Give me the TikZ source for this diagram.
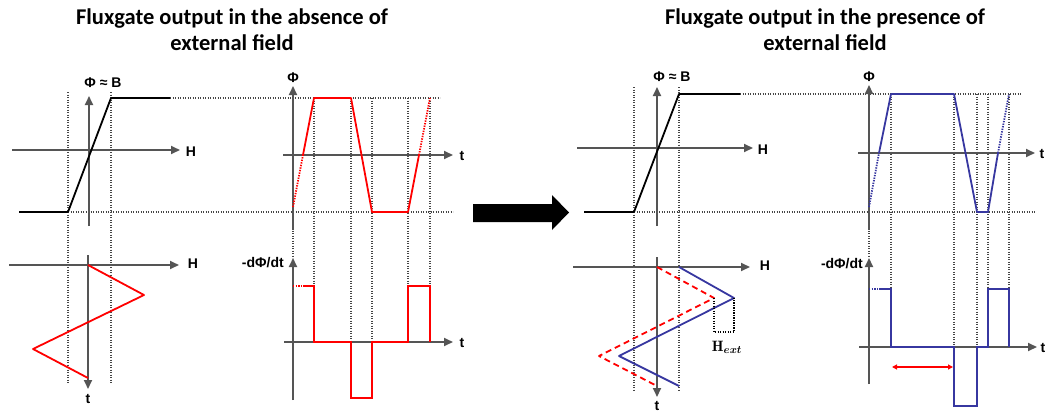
\documentclass[tikz,border=0pt]{standalone}
\usepackage{amsmath}
\usepackage{fontspec}
\newfontfamily\titlefont{Carlito}
\newfontfamily\labfont{Liberation Sans}
\usetikzlibrary{arrows.meta}
\definecolor{axisgray}{RGB}{85,85,85}
\definecolor{dotgray}{RGB}{70,70,70}
\definecolor{curvered}{RGB}{255,0,0}
\definecolor{curveblue}{RGB}{55,55,160}
\begin{document}
\begin{tikzpicture}[x=1pt,y=-1pt,
  axis/.style={draw=axisgray,line width=1.8pt,-{Triangle[length=9pt,width=8pt]}},
  guide/.style={draw=dotgray,line width=1.8pt,dash pattern=on 1.2pt off 1.3pt},
  bh/.style={draw=black,line width=1.8pt,line join=round},
  redc/.style={draw=curvered,line width=1.8pt},
  redd/.style={draw=curvered,line width=1.8pt,dash pattern=on 1.4pt off 1.2pt},
  reddash/.style={draw=curvered,line width=1.8pt,dash pattern=on 6pt off 4pt},
  bluec/.style={draw=curveblue,line width=1.8pt},
  blued/.style={draw=curveblue,line width=1.8pt,dash pattern=on 1.4pt off 1.2pt},
  lab/.style={font=\labfont\bfseries\fontsize{14}{16}\selectfont,text=black,inner sep=0pt},
  ttl/.style={font=\titlefont\bfseries\fontsize{22.5}{26}\selectfont,align=center,inner sep=0pt}
]
\useasboundingbox (0,0) rectangle (1049,412);

% ---------- titles ----------
\node[ttl] (t1) at (232,30) {Fluxgate output in the absence of\\external field};
\node[ttl] (t2) at (825,30) {Fluxgate output in the presence of\\external field};

% ================= LEFT HALF =================
% guides
\draw[guide] (68,92) -- (68,383);
\draw[guide] (111,92) -- (111,383);
\draw[guide] (170,98) -- (440,98);
\draw[guide] (68,212) -- (453,212);
\foreach \x in {314,351,372,408,430} \draw[guide] (\x,98) -- (\x,342);
\draw[guide] (293,228) -- (293,258);
% B-H curve
\draw[axis] (12,150) -- (180,150);
\draw[axis] (89,226) -- (89,96);
\node[lab] (lH1) at (191,152) {H};
\node[lab] (lB1) at (103,83) {Φ ≈ B};
\draw[bh] (19,212) -- (68,212) -- (111,98) -- (170,98);
% Phi(t)
\draw[axis] (293,230) -- (293,86);
\draw[axis] (283,155) -- (453,155);
\node[lab] (lP1) at (293,78) {Φ};
\node[lab] (lt1) at (462,156) {t};
\draw[redd] (293,207) -- (303,155);
\draw[redc,line join=round] (303,155) -- (314,98) -- (351,98) -- (372,212) -- (408,212) -- (419,155);
\draw[redd] (419,155) -- (430,98);
% H(t)
\draw[axis] (9,265) -- (179,265);
\draw[axis] (88,255) -- (88,389);
\node[lab] (lH2) at (193,264) {H};
\node[lab] (lt2) at (88,399) {t};
\draw[redc,line join=round] (88,265) -- (144,295) -- (33,349) -- (88,378);
% -dPhi/dt
\draw[axis] (293,400) -- (293,258);
\draw[axis] (284,342) -- (453,342);
\node[lab,anchor=east] (lD1) at (284,263) {-dΦ/dt};
\node[lab] (lt3) at (462,343) {t};
\draw[redd] (293,286) -- (303,286);
\draw[redc,line join=miter] (303,286) -- (314,286) -- (314,342) -- (351,342) -- (351,398) -- (372,398) -- (372,342) -- (408,342) -- (408,286) -- (430,286) -- (430,342);

% ---------- big arrow ----------
\fill[black] (473,204) -- (552,204) -- (552,195) -- (569,212.5) -- (552,230) -- (552,222) -- (473,222) -- cycle;

% ================= RIGHT HALF =================
\draw[guide] (634,87) -- (634,390);
\draw[guide] (679,87) -- (679,390);
\draw[guide] (740,94) -- (1021,94);
\draw[guide] (634,212) -- (1035,212);
\foreach \x in {891,954,977,988,1009} \draw[guide] (\x,94) -- (\x,347);
\draw[guide] (869,228) -- (869,256);
% B-H curve
\draw[axis] (577,148) -- (753,148);
\draw[axis] (657,226) -- (657,87);
\node[lab] (lH3) at (763,150) {H};
\node[lab] (lB2) at (672,77) {Φ ≈ B};
\draw[bh] (584,212) -- (634,212) -- (679,94) -- (740,94);
% Phi(t)
\draw[axis] (869,230) -- (869,85);
\draw[axis] (858,153) -- (1035,153);
\node[lab] (lP2) at (869,77) {Φ};
\node[lab] (lt4) at (1042,154) {t};
\draw[blued] (869,207) -- (879,153);
\draw[bluec,line join=round] (879,153) -- (891,94) -- (954,94) -- (977,212) -- (988,212) -- (998,153);
\draw[blued] (998,153) -- (1009,94);
% H(t)
\draw[axis] (573,267) -- (750,267);
\draw[axis] (657,257) -- (657,397);
\node[lab] (lH4) at (765,266) {H};
\node[lab] (lt5) at (657,406) {t};
\draw[reddash,line join=round] (657,267) -- (714,298) -- (599,356) -- (657,386);
\draw[bluec,line join=round] (679,267) -- (734,298) -- (619,356) -- (679,386);
\draw[draw=black,line width=1.8pt,dash pattern=on 1.2pt off 1.3pt] (714,298) -- (714,332) -- (734,332) -- (734,298);
\node[inner sep=0pt,font=\fontsize{15}{17}\selectfont] (lHx) at (727,347) {$\mathbf{H}_{\boldsymbol{ext}}$};
% -dPhi/dt
\draw[axis] (869,384) -- (869,258);
\draw[axis] (859,347) -- (1037,347);
\node[lab,anchor=east] (lD2) at (863,264) {-dΦ/dt};
\node[lab] (lt6) at (1043,348) {t};
\draw[blued] (869,289) -- (879,289);
\draw[bluec,line join=miter] (879,289) -- (891,289) -- (891,347) -- (954,347) -- (954,406) -- (977,406) -- (977,347) -- (988,347) -- (988,289) -- (1009,289) -- (1009,347);
\coordinate (da) at (892,367);
\coordinate (db) at (953,367);
\draw[draw=curvered,line width=1.2pt,{Triangle[length=5pt,width=5pt]}-{Triangle[length=5pt,width=5pt]}] (da) -- (db);
\end{tikzpicture}
\end{document}
